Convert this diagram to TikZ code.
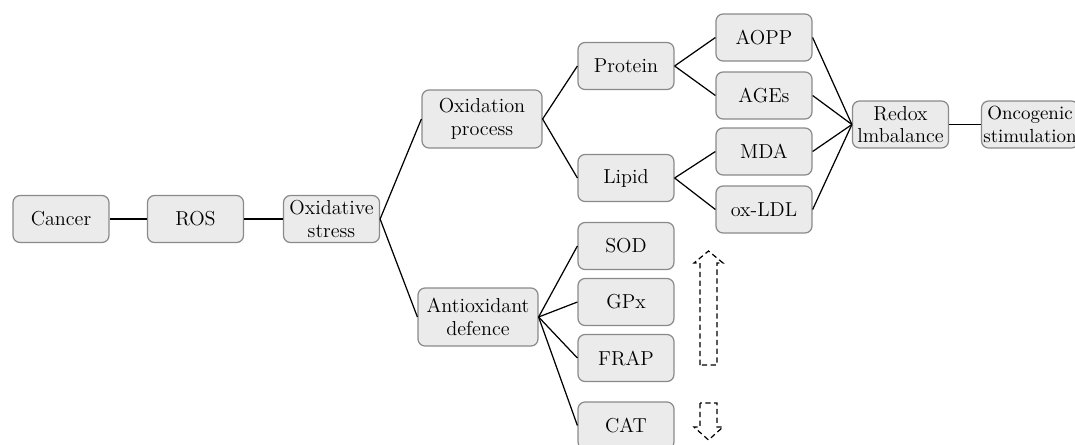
\documentclass[tikz,border=0pt]{standalone}
\usetikzlibrary{positioning}
\definecolor{boxFill}{HTML}{EBEBEB}
\definecolor{boxEdge}{HTML}{8A8A8A}
\tikzset{
	box/.style={draw=boxEdge, fill=boxFill, rounded corners=1.4mm, line width=0.7pt,
		minimum width=1.92cm, minimum height=0.94cm, inner sep=1pt, align=center,
		font=\fontsize{11.5}{12.8}\selectfont},
	bigbox/.style={box, minimum width=2.4cm, minimum height=1.16cm},
	link/.style={line width=0.7pt},
	updown/.style={line width=0.7pt, dash pattern=on 3pt off 2pt}
}

\begin{document}
\begin{tikzpicture}[x=0.02cm, y=-0.02cm]
	\clip (0,0) rectangle (1075,444);
	% main chain
	\node[box] (cancer) at (61, 219) {Cancer};
	\node[box] (ros) at (195.5, 219) {ROS};
	\node[box] (oxs) at (331.5, 219) {Oxidative\\stress};
	% two branches
	\node[bigbox] (oxp) at (482, 119) {Oxidation\\process};
	\node[bigbox] (antiox) at (478, 317) {Antioxidant\\defence};
	\node[box] (protein) at (626, 66) {Protein};
	\node[box] (lipid) at (626, 178) {Lipid};
	\node[box] (aopp) at (764, 37.5) {AOPP};
	\node[box] (ages) at (764, 95.5) {AGEs};
	\node[box] (mda) at (764, 151.5) {MDA};
	\node[box] (oxldl) at (764, 209.5) {ox-LDL};
	\node[box] (redox) at (900.5, 124.5) {Redox\\lmbalance};
	\node[box, font=\fontsize{10.8}{12.8}\selectfont] (onco) at (1030, 124.5) {Oncogenic\\stimulation};
	% enzymes
	\node[box] (sod) at (626, 246) {SOD};
	\node[box] (gpx) at (626, 302) {GPx};
	\node[box] (frap) at (626, 358) {FRAP};
	\node[box] (cat) at (626, 425.5) {CAT};
	% connectors
	\draw[link] (cancer) -- (ros);
	\draw[link] (ros) -- (oxs);
	\draw[link] (oxs.east) -- (oxp.west);
	\draw[link] (oxs.east) -- (antiox.west);
	\draw[link] (oxp.east) -- (protein.west);
	\draw[link] (oxp.east) -- (lipid.west);
	\draw[link] (protein.east) -- (aopp.west);
	\draw[link] (protein.east) -- (ages.west);
	\draw[link] (lipid.east) -- (mda.west);
	\draw[link] (lipid.east) -- (oxldl.west);
	\foreach \n in {aopp, ages, mda, oxldl}
		\draw[link] (\n.east) -- (redox.west);
	\draw[link] (redox) -- (onco);
	\foreach \n in {sod, gpx, frap, cat}
		\draw[link] (antiox.east) -- (\n.west);
	% up and down
	\draw[updown] (700,365) -- (700,263) -- (694,263) -- (708.5,251) -- (723,263) -- (717,263) -- (717,365) -- cycle;
	\draw[updown] (700,403) -- (700,427) -- (694,427) -- (708.5,440) -- (723,427) -- (717,427) -- (717,403) -- cycle;
\end{tikzpicture}
\end{document}
